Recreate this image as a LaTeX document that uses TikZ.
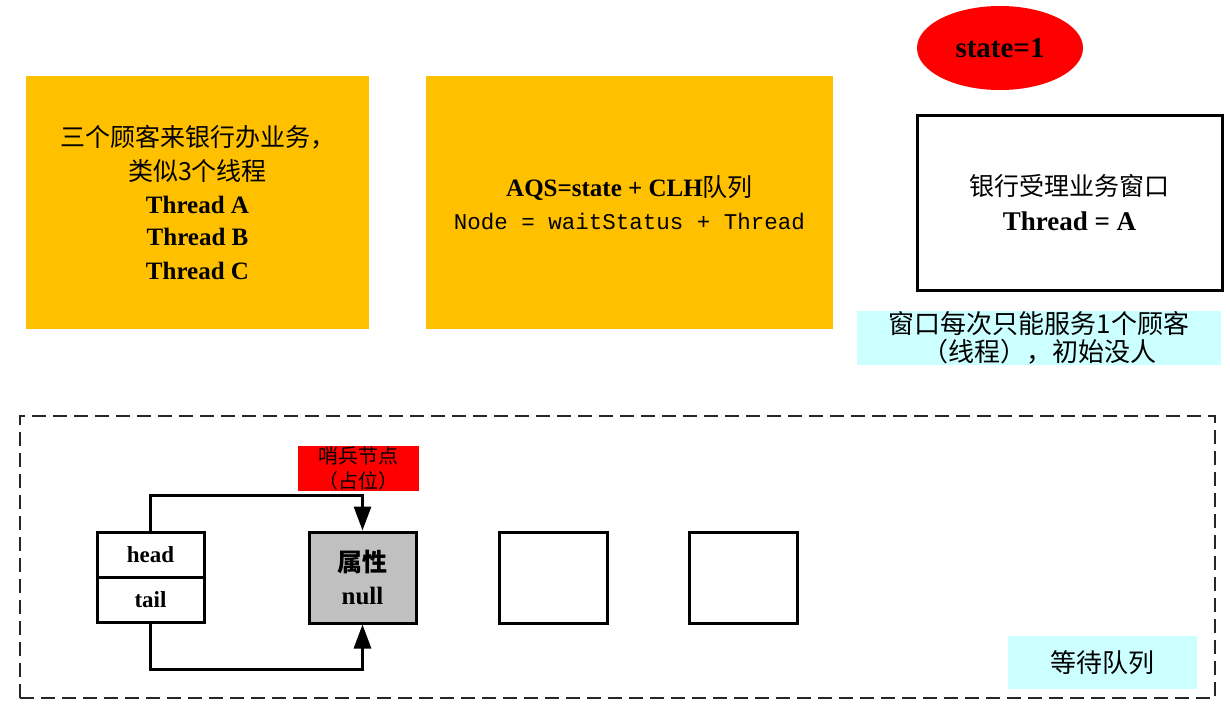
\documentclass[tikz,border=0pt]{standalone}
\usepackage{fontspec}
\setmainfont{Liberation Serif}
\setmonofont{Liberation Mono}
\newfontfamily\cjk{Noto Sans CJK SC}
\usetikzlibrary{arrows.meta,shapes.geometric}
\definecolor{ybox}{HTML}{FFC000}
\definecolor{cbox}{HTML}{CCFFFF}
\definecolor{gbox}{HTML}{C0C0C0}
\definecolor{rbox}{HTML}{FF0000}
\tikzset{
  card/.style={inner sep=0pt, align=center, minimum width=#1},
  yelbox/.style={card=343pt, fill=ybox, minimum height=253pt},
  wbox/.style={card=107pt, draw, line width=3pt, fill=white, minimum height=45pt},
  qbox/.style={card=108pt, draw, line width=3pt, fill=white, minimum height=91pt},
  cybox/.style={inner sep=0pt, align=center, fill=cbox},
  arr/.style={line width=3pt, -{Triangle[length=24pt,width=17pt]}},
}
\begin{document}
\begin{tikzpicture}[x=1pt,y=-1pt]
\useasboundingbox (0,0) rectangle (1230,716);
\fill[white] (0,0) rectangle (1230,716);

% dashed frame
\node[draw=black!85, dash pattern=on 14pt off 7pt, line width=1.2pt, minimum width=1195pt, minimum height=282pt, inner sep=0pt] (frame) at (617.5,557) {};

% top boxes
\node[yelbox, font=\fontsize{25}{33}\selectfont] (cust) at (197.5,202.5) {%
  {\cjk 三个顾客来银行办业务，}\\
  {\cjk 类似3个线程}\\
  \textbf{Thread A}\\
  \textbf{Thread B}\\
  \textbf{Thread C}};
\node[yelbox, minimum width=407pt, font=\fontsize{25}{33}\selectfont] (aqs) at (629.5,202.5) {%
  \textbf{AQS=state + CLH}{\cjk 队列}\\
  {\fontsize{22.5}{33}\selectfont\ttfamily Node = waitStatus + Thread}};

\node[ellipse, fill=rbox, minimum width=166pt, minimum height=84pt, inner sep=0pt, font=\fontsize{29}{33}\selectfont\bfseries] (state) at (1000,48) {state=1};

\node[draw, line width=3pt, minimum width=305pt, minimum height=175pt, inner sep=0pt, align=center, font=\fontsize{25}{35}\selectfont] (window) at (1069.5,202.5) {%
  {\cjk 银行受理业务窗口}\\
  {\fontsize{27}{35}\selectfont\bfseries Thread = A}};

\node[cybox, minimum width=364pt, minimum height=54pt, font=\fontsize{26}{28}\selectfont\cjk] (note) at (1039,338) {%
  窗口每次只能服务1个顾客\\（线程），初始没人};

% queue
\node[wbox, font=\fontsize{23}{28}\selectfont\bfseries] (head) at (150.5,554.5) {head};
\node[wbox, font=\fontsize{23}{28}\selectfont\bfseries] (tail) at (150.5,599.5) {tail};
\node[qbox, minimum width=107pt, fill=gbox, font=\fontsize{25}{33}\selectfont\bfseries] (attr) at (362.5,577.5) {%
  {\cjk\bfseries 属性}\\null};
\node[qbox] (q2) at (553,577.5) {};
\node[qbox] (q3) at (743,577.5) {};

\node[inner sep=0pt, align=center, fill=rbox, minimum width=121pt, minimum height=45pt, font=\fontsize{20}{25}\selectfont\cjk] (sentinel) at (358.5,468.5) {哨兵节点\\（占位）};

\node[cybox, minimum width=189pt, minimum height=53pt, font=\fontsize{26}{28}\selectfont\cjk] (wait) at (1102.5,662.5) {等待队列};

\draw[arr] (head.north) -- ++(0,-35) -| (attr.north);
\draw[arr] (tail.south) -- ++(0,46) -| (attr.south);
\end{tikzpicture}
\end{document}
